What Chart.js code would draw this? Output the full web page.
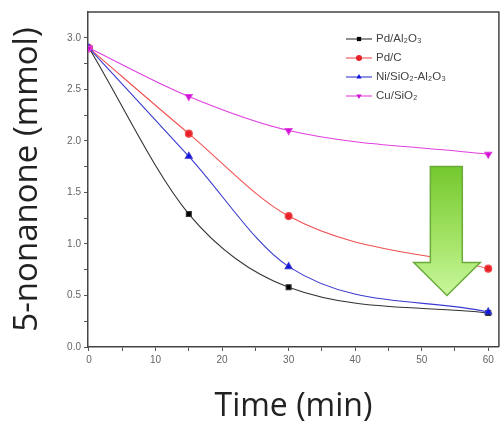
<!DOCTYPE html>
<html>
<head>
<meta charset="utf-8">
<script src="https://cdn.jsdelivr.net/npm/chart.js@4.4.1/dist/chart.umd.min.js"></script>
<style>
html,body{margin:0;padding:0;background:#fff;}
#wrap{width:504px;height:426px;position:relative;}
</style>
</head>
<body>
<div id="wrap"><canvas id="c" width="504" height="426"></canvas></div>
<script>
// ---- data ----
const times = [0, 15, 30, 60];
const pdAl2O3 = [2.90, 1.29, 0.58, 0.33];
const pdC = [2.90, 2.07, 1.27, 0.76];
const niSiO2Al2O3 = [2.90, 1.85, 0.78, 0.34];
const cuSiO2 = [2.90, 2.43, 2.10, 1.87];
const seriesLabels = ['Pd/Al₂O₃', 'Pd/C', 'Ni/SiO₂-Al₂O₃', 'Cu/SiO₂'];
const xTicks = [0, 5, 10, 15, 20, 25, 30, 35, 40, 45, 50, 55, 60];
const yTicks = [0, 0.25, 0.5, 0.75, 1.0, 1.25, 1.5, 1.75, 2.0, 2.25, 2.5, 2.75, 3.0];
const xTitle = 'Time (min)';
const yTitle = '5-nonanone (mmol)';
// arrow annotation (data coordinates): shaft x range, head x range, top, shaft bottom, tip
const arrowShaft = [51.3, 56.1];
const arrowHead = [48.8, 58.8];
const arrowY = [1.75, 0.82, 0.50];

const pts = arr => arr.map((v, i) => ({x: times[i], y: v}));

const common = {borderWidth: 1.1, pointRadius: 3.5, cubicInterpolationMode: 'monotone', fill: false};
const datasets = [
  Object.assign({}, common, {label: seriesLabels[0], data: pts(pdAl2O3), borderColor: '#333', backgroundColor: '#000', pointStyle: 'rect', order: 3}),
  Object.assign({}, common, {label: seriesLabels[1], data: pts(pdC), borderColor: '#f05050', backgroundColor: '#e8202a', pointStyle: 'circle', order: 2}),
  Object.assign({}, common, {label: seriesLabels[2], data: pts(niSiO2Al2O3), borderColor: '#3a3ad0', backgroundColor: '#1010e0', pointStyle: 'triangle', pointRadius: 4, order: 1}),
  Object.assign({}, common, {label: seriesLabels[3], data: pts(cuSiO2), borderColor: '#e040e0', backgroundColor: '#d010d0', pointStyle: 'triangle', pointRotation: 180, pointRadius: 4, order: 0})
];

const framePlugin = {
  id: 'frame',
  afterDatasetsDraw(chart) {
    const {ctx, chartArea: a, scales: {x, y}} = chart;
    ctx.save();
    // frame top/right
    ctx.strokeStyle = '#444';
    ctx.lineWidth = 1.5;
    ctx.beginPath();
    ctx.moveTo(a.left, a.top); ctx.lineTo(a.right, a.top); ctx.lineTo(a.right, a.bottom);
    ctx.stroke();

    // legend
    const lx = a.left + 258, tx = lx + 30;
    ctx.font = '11.5px "Liberation Sans", Arial, sans-serif';
    ctx.textBaseline = 'middle';
    chart.data.datasets.forEach((ds, i) => {
      const yy = a.top + 27 + i * 19;
      ctx.strokeStyle = ds.borderColor; ctx.lineWidth = 1.1;
      ctx.beginPath(); ctx.moveTo(lx, yy); ctx.lineTo(lx + 26, yy); ctx.stroke();
      ctx.fillStyle = ds.backgroundColor;
      Chart.helpers.drawPoint(ctx, {pointStyle: ds.pointStyle, radius: 3, rotation: ds.pointRotation || 0, borderWidth: 0}, lx + 13, yy);
      ctx.fillStyle = '#444';
      ctx.fillText(ds.label, tx, yy);
    });

    // arrow
    const sL = x.getPixelForValue(arrowShaft[0]), sR = x.getPixelForValue(arrowShaft[1]);
    const hL = x.getPixelForValue(arrowHead[0]), hR = x.getPixelForValue(arrowHead[1]);
    const top = y.getPixelForValue(arrowY[0]), mid = y.getPixelForValue(arrowY[1]), tip = y.getPixelForValue(arrowY[2]);
    const g = ctx.createLinearGradient(0, top, 0, tip);
    g.addColorStop(0, '#74c82e'); g.addColorStop(0.6, '#a6e56a'); g.addColorStop(1, '#c9f79c');
    ctx.beginPath();
    ctx.moveTo(sL, top); ctx.lineTo(sR, top); ctx.lineTo(sR, mid); ctx.lineTo(hR, mid);
    ctx.lineTo((hL + hR) / 2, tip); ctx.lineTo(hL, mid); ctx.lineTo(sL, mid); ctx.closePath();
    ctx.fillStyle = g; ctx.fill();
    ctx.strokeStyle = '#6aab3a'; ctx.lineWidth = 1.5; ctx.stroke();
    ctx.restore();
  }
};

new Chart(document.getElementById('c'), {
  type: 'line',
  data: {datasets},
  plugins: [framePlugin],
  options: {
    responsive: false,
    animation: false,
    layout: {padding: {top: 12, right: 3, left: 0, bottom: 0}},
    plugins: {legend: {display: false}, tooltip: {enabled: false}},
    scales: {
      x: {
        type: 'linear', min: -0.15, max: 61.6,
        afterBuildTicks: s => { s.ticks = xTicks.map(v => ({value: v})); },
        afterFit: s => { s.height = 79; },
        ticks: {
          autoSkip: false, maxRotation: 0, color: '#666', padding: 3,
          font: {size: 10, family: '"Liberation Sans", Arial, sans-serif'},
          callback: v => (v % 10 === 0 ? String(v) : '')
        },
        grid: {drawOnChartArea: false, tickLength: 4, color: '#555', tickWidth: 1},
        border: {display: true, color: '#444', width: 1.5},
        title: {display: true, text: xTitle, color: '#222', font: {size: 32, family: '"Open Sans", sans-serif'}, padding: 0, lineHeight: 0.95}
      },
      y: {
        type: 'linear', min: 0, max: 3.25,
        afterBuildTicks: s => { s.ticks = yTicks.map(v => ({value: v})); },
        afterFit: s => { s.width = 88; },
        ticks: {
          autoSkip: false, color: '#666', padding: 3,
          font: {size: 10, family: '"Liberation Sans", Arial, sans-serif'},
          callback: v => (Math.abs(v * 2 - Math.round(v * 2)) < 1e-6 ? v.toFixed(1) : '')
        },
        grid: {drawOnChartArea: false, tickLength: 4, color: '#555', tickWidth: 1},
        border: {display: true, color: '#444', width: 1.5},
        title: {display: true, text: yTitle, color: '#222', font: {size: 33, family: '"Open Sans", sans-serif'}, padding: {top: 8, bottom: 0}, lineHeight: 1.2}
      }
    }
  }
});
</script>
</body>
</html>
